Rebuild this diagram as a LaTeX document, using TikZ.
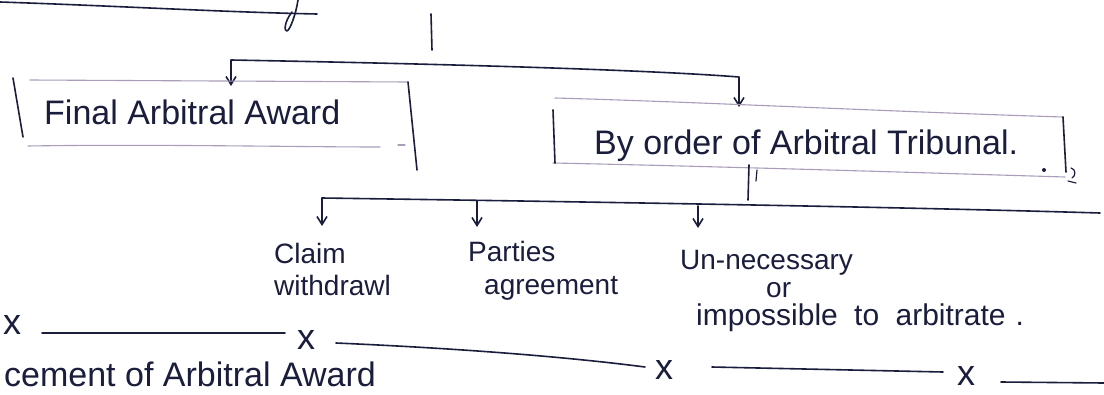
\documentclass[tikz,border=0pt]{standalone}
\usepackage{fontspec}
\setmainfont{Liberation Sans}
\usetikzlibrary{arrows.meta}
\definecolor{inkc}{HTML}{1A1D3C}
\definecolor{faintc}{HTML}{A99DBA}

\begin{document}
\begin{tikzpicture}[x=1pt,y=-1pt,
  ink/.style={draw=inkc, line width=1.6pt, line cap=round, line join=round},
  faint/.style={draw=faintc, line width=1.1pt, line cap=round},
  tip/.style={-{Straight Barb[length=8pt,width=10pt,line width=1.6pt]}},
  twotips/.style={{Straight Barb[length=8pt,width=10pt,line width=1.6pt]}-{Straight Barb[length=8pt,width=10pt,line width=1.6pt]}},
  boxtext/.style={text=inkc, font=\fontsize{34}{40}\selectfont, inner sep=0pt},
  lbl/.style={text=inkc, font=\fontsize{28}{32}\selectfont, inner sep=0pt, align=left},
  xmark/.style={text=inkc, font=\fontsize{36}{40}\selectfont, inner sep=0pt},
]
\useasboundingbox (0,0) rectangle (1104,394);
\clip (0,0) rectangle (1104,394);
\fill[white] (0,0) rectangle (1104,394);

% leftover stroke from the line above
\draw[ink] (0,2) .. controls (120,6) and (220,12) .. (317,14);
\draw[ink] (298,0) .. controls (296,14) and (290,30) .. (287,31)
           .. controls (284,32) and (284,22) .. (292,12);

% ---- first level: two outcomes ----
\node[boxtext, anchor=base west] (fa) at (44,124) {Final Arbitral Award};
\node[boxtext, anchor=base west] (bo) at (594,154) {By order of Arbitral Tribunal.};

\coordinate (stem) at (431,14);
\coordinate (stemend) at (432,50);
\draw[ink] (stem) -- (stemend);

\coordinate (faTop) at (231,86);
\coordinate (boTop) at (739,107);
\draw[ink, twotips] (faTop) -- (231,60) .. controls (450,64) and (650,70) .. (739,77) -- (boTop);

% box round the final award
\draw[faint] (30,80) -- (408,82);
\draw[faint] (28,146) .. controls (150,144) and (300,147) .. (380,147);
\draw[faint] (398,145) -- (405,145);
\draw[ink] (13,78) -- (23,137);
\draw[ink] (408,82) -- (417,170);

% box round the tribunal's order
\draw[faint] (555,98) .. controls (700,102) and (900,112) .. (1063,117);
\draw[faint] (553,163) .. controls (700,166) and (900,172) .. (1065,177);
\draw[ink] (553,110) -- (555,163);
\draw[ink] (1063,117) -- (1066,172);
\draw[ink, line width=1.2pt] (1071,168) .. controls (1076,169) and (1076,176) .. (1072,178);
\draw[ink, line width=1.2pt] (1068,181) -- (1076,183);
\fill[inkc] (1044,170) circle (2pt);

% ---- second level: grounds for the order ----
\draw[ink] (749,165) -- (748,200);
\draw[ink, line width=1.2pt] (757,170) -- (756,181);

\node[lbl, anchor=north west] (cw) at (274,243) {Claim\\withdrawl};
\node[lbl, anchor=north west] (pa) at (468,241) {Parties\\[1pt]\hspace{16pt}agreement};
\node[lbl, anchor=north west] (un) at (680,250)
  {Un-necessary\\[-4pt]\hspace{86pt}or\\[-4pt]\hspace{16pt}{\fontsize{30}{32}\selectfont impossible\hspace{8pt} to\hspace{8pt} arbitrate\hspace{10pt}.}};

\coordinate (s1) at (322,198);
\coordinate (s2) at (477,201);
\coordinate (s3) at (698,206);
\draw[ink] (s1) .. controls (600,202) and (900,207) .. (1100,213);
\draw[ink, tip] (s1) -- (322,226);
\draw[ink, tip] (s2) -- (477,227);
\draw[ink, tip] (s3) -- (698,228);

% ---- time line at the foot ----
\node[xmark] (x1) at (12,325) {x};
\node[xmark] (x2) at (306,340) {x};
\node[xmark] (x3) at (664,370) {x};
\node[xmark] (x4) at (966,376) {x};
\draw[ink] (42,333) -- (285,333);
\draw[ink] (336,343) .. controls (450,348) and (560,356) .. (645,367);
\draw[ink] (712,367) -- (943,372);
\draw[ink] (1001,382) -- (1104,383);

\node[boxtext, anchor=base west] (enf) at (4,386) {cement of Arbitral Award};
\end{tikzpicture}
\end{document}
